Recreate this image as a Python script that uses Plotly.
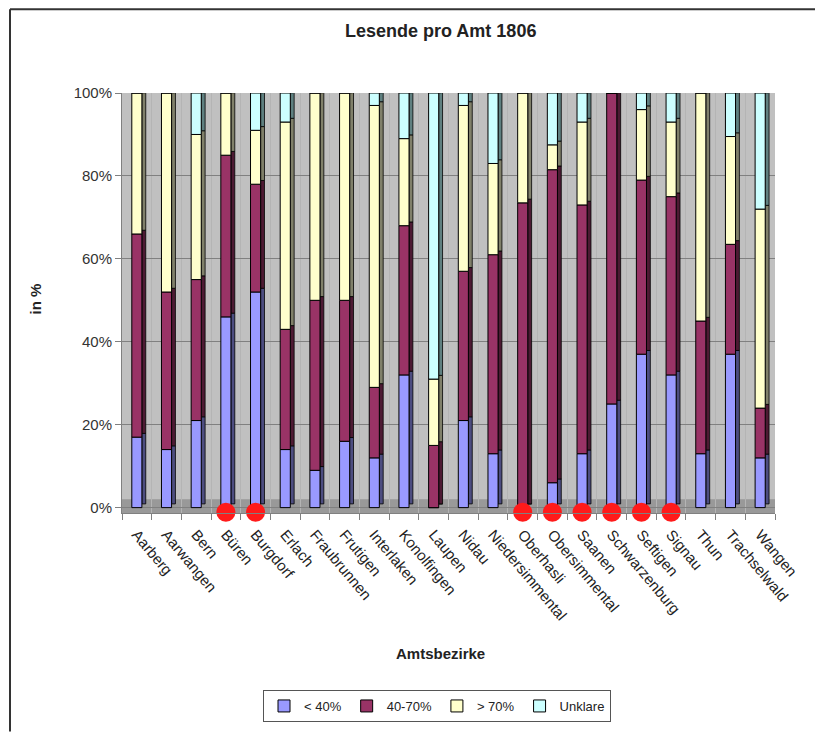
import plotly.graph_objects as go

categories = ["Aarberg", "Aarwangen", "Bern", "Büren", "Burgdorf", "Erlach", "Fraubrunnen",
              "Frutigen", "Interlaken", "Konolfingen", "Laupen", "Nidau", "Niedersimmental",
              "Oberhasli", "Obersimmental", "Saanen", "Schwarzenburg", "Seftigen", "Signau",
              "Thun", "Trachselwald", "Wangen"]

lt40 = [17, 14, 21, 46, 52, 14, 9, 16, 12, 32, 0, 21, 13, 0, 6, 13, 25, 37, 32, 13, 37, 12]
mid40_70 = [49, 38, 34, 39, 26, 29, 41, 34, 17, 36, 15, 36, 48, 73.5, 75.5, 60, 75, 42, 43, 32, 26.5, 12]
gt70 = [34, 48, 35, 15, 13, 50, 50, 50, 68, 21, 16, 40, 22, 26.5, 6, 20, 0, 17, 18, 55, 26, 48]
unklar = [0, 0, 10, 0, 9, 7, 0, 0, 3, 11, 69, 3, 17, 0, 12.5, 7, 0, 4, 7, 0, 10.5, 28]

series_names = ["< 40%", "40-70%", "> 70%", "Unklare"]
series_values = [lt40, mid40_70, gt70, unklar]

highlighted = ["Büren", "Burgdorf", "Oberhasli", "Obersimmental", "Saanen",
               "Schwarzenburg", "Seftigen", "Signau"]

y_tick_values = [0, 20, 40, 60, 80, 100]
y_tick_labels = ["0%", "20%", "40%", "60%", "80%", "100%"]

front_colors = ["#9999FF", "#993366", "#FFFFCC", "#CCFFFF"]
side_colors = ["#4d4d80", "#4d1a33", "#80806a", "#5f8080"]

FONT = "Liberation Sans, Arial, sans-serif"

fig = go.Figure()

# cumulative bases
bases = []
cum = [0.0] * len(categories)
for vals in series_values:
    bases.append(list(cum))
    cum = [c + v for c, v in zip(cum, vals)]
totals = cum

# side faces (3D look)
for i, vals in enumerate(series_values):
    fig.add_trace(go.Bar(
        x=categories, y=vals, base=[b + 0.9 for b in bases[i]],
        width=0.13, offset=0.17,
        marker=dict(color=side_colors[i], line=dict(color="#000000", width=0.8)),
        showlegend=False, hoverinfo="skip"))

# top caps
fig.add_trace(go.Bar(
    x=categories, y=[0.9] * len(categories), base=totals,
    width=0.40, offset=-0.13,
    marker=dict(color="#4a6a6a", line=dict(color="#000000", width=0.6)),
    showlegend=False, hoverinfo="skip"))

# front faces
for i, vals in enumerate(series_values):
    fig.add_trace(go.Bar(
        x=categories, y=vals, base=bases[i], name=series_names[i],
        width=0.34, offset=-0.17,
        marker=dict(color=front_colors[i], line=dict(color="#000000", width=1)),
        showlegend=True))

# red markers
fig.add_trace(go.Scatter(
    x=highlighted, y=[-1.1] * len(highlighted), mode="markers",
    marker=dict(color="#FF1A1A", size=19, line=dict(width=0)),
    showlegend=False, cliponaxis=False, hoverinfo="skip"))

# figure coordinates = reference page coordinates - 8 (page body margin)
W, H = 815, 725
L, R, T, B = 114, 48, 85, 219
pw, ph = W - L - R, H - T - B


def px_x(px):
    return (px - L) / pw


def px_y(py):
    return (H - B - py) / ph


fig.update_layout(
    width=W, height=H,
    margin=dict(l=L, r=R, t=T, b=B),
    barmode="overlay",
    paper_bgcolor="#ffffff",
    plot_bgcolor="#c0c0c0",
    font=dict(family=FONT, size=15, color="#222222"),
    showlegend=True,
    legend=dict(orientation="h", x=px_x(429), y=px_y(698), xanchor="center", yanchor="middle",
                bordercolor="#555555", borderwidth=1, bgcolor="#ffffff",
                font=dict(family=FONT, size=13, color="#222222"),
                traceorder="normal", itemwidth=30),
    xaxis=dict(type="category", categoryorder="array", categoryarray=categories,
               range=[-0.5, len(categories) - 0.5],
               tickangle=50, tickson="boundaries", ticks="outside", ticklen=6,
               ticklabelstandoff=6,
               tickcolor="#808080", showline=True, linecolor="#808080",
               showgrid=True, gridcolor="#b4b4b4", gridwidth=1,
               tickfont=dict(family=FONT, size=15, color="#222222")),
    yaxis=dict(range=[-1.3, 100], tickmode="array", tickvals=y_tick_values,
               ticktext=y_tick_labels,
               ticks="outside", ticklen=6, tickcolor="#808080",
               showline=True, linecolor="#808080",
               showgrid=True, gridcolor="#808080", gridwidth=1, zeroline=False,
               tickfont=dict(family=FONT, size=15, color="#333333")),
    annotations=[
        dict(text="<b>Lesende pro Amt 1806</b>", xref="paper", yref="paper",
             x=px_x(432), y=px_y(23), xanchor="center", yanchor="middle", showarrow=False,
             font=dict(family=FONT, size=18, color="#222222")),
        dict(text="<b>in %</b>", xref="paper", yref="paper",
             x=px_x(28), y=px_y(292), xanchor="center", yanchor="middle",
             showarrow=False, textangle=-90,
             font=dict(family=FONT, size=15, color="#222222")),
        dict(text="<b>Amtsbezirke</b>", xref="paper", yref="paper",
             x=px_x(432), y=px_y(647), xanchor="center", yanchor="middle", showarrow=False,
             font=dict(family=FONT, size=15, color="#222222")),
    ],
    shapes=[
        # floor
        dict(type="rect", xref="paper", yref="y", x0=0, x1=1, y0=-1.3, y1=2.0,
             fillcolor="#999999", line=dict(width=0), layer="below"),
        # outer frame (top and left)
        dict(type="line", xref="paper", yref="paper", x0=px_x(2), x1=px_x(W),
             y0=px_y(1), y1=px_y(1), line=dict(color="#333333", width=2)),
        dict(type="line", xref="paper", yref="paper", x0=px_x(2), x1=px_x(2),
             y0=px_y(1), y1=px_y(H), line=dict(color="#333333", width=2)),
    ],
)

fig.write_html("out.html")
